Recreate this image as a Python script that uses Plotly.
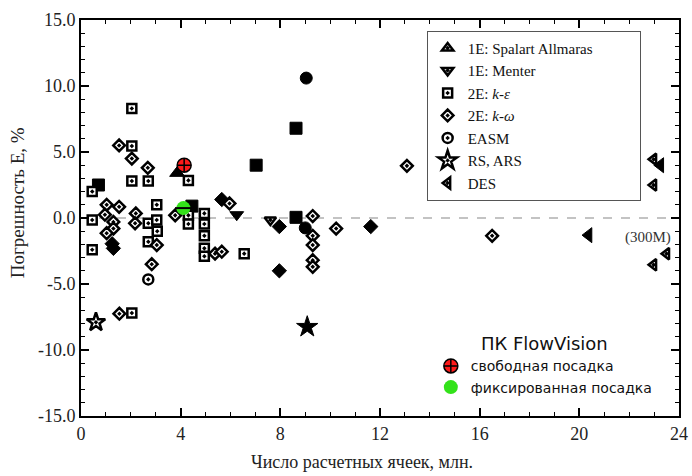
import plotly.graph_objects as go

# ---------------- data ----------------
# 1E: Spalart Allmaras
sa_fill_x = [3.86]
sa_fill_y = [3.4]
# 1E: Menter
me_open_x = [7.6]
me_open_y = [-0.15]
me_fill_x = [6.25]
me_fill_y = [0.25]
# 2E: k-epsilon
ke_open_x = [0.45, 0.45, 0.45, 2.04, 2.04, 2.04, 2.7, 3.04, 2.7, 3.06, 2.7, 3.04,
             4.31, 4.31, 4.31, 4.95, 4.95, 4.95, 4.95, 4.95, 2.04, 6.55]
ke_open_y = [2.0, -0.15, -2.4, 8.3, 5.45, 2.8, 2.8, 1.0, -0.4, -1.0, -1.8, -0.15,
             2.85, 0.2, -0.45, 0.35, -0.45, -1.35, -2.3, -2.9, -7.2, -2.7]
ke_fill_x = [0.7, 4.45, 7.03, 8.63, 8.63]
ke_fill_y = [2.5, 0.9, 4.0, 6.8, 0.05]
# 2E: k-omega
kw_open_x = [1.53, 2.04, 2.68, 1.03, 1.53, 2.2, 2.17, 0.96, 1.3, 1.3, 1.03, 3.78,
             3.04, 2.84, 1.54, 5.96, 5.38, 5.65, 9.3, 9.3, 9.3, 9.3, 9.3, 10.24,
             13.08, 16.5]
kw_open_y = [5.5, 4.5, 3.8, 1.0, 0.85, 0.35, -0.4, 0.25, -0.3, -0.8, -1.15, 0.2,
             -2.05, -3.5, -7.25, 1.1, -2.7, -2.55, 0.15, -1.35, -2.05, -3.2, -3.7, -0.8,
             3.95, -1.35]
kw_fill_x = [5.65, 7.96, 7.96, 11.63, 1.25, 1.3]
kw_fill_y = [1.4, -0.65, -4.0, -0.65, -1.95, -2.3]
# EASM
ea_open_x = [2.7]
ea_open_y = [-4.65]
ea_fill_x = [9.04, 9.0]
ea_fill_y = [10.6, -0.75]
# RS, ARS
rs_open_x = [0.6]
rs_open_y = [-7.9]
rs_fill_x = [9.08]
rs_fill_y = [-8.25]
# DES
des_open_x = [22.98, 22.98, 23.5, 22.98]
des_open_y = [4.45, 2.5, -2.7, -3.55]
des_fill_x = [23.25, 20.37]
des_fill_y = [4.0, -1.3]
# FlowVision
fv_free_x = [4.14]
fv_free_y = [4.0]
fv_fixed_x = [4.11]
fv_fixed_y = [0.75]

x_ticks = [0, 4, 8, 12, 16, 20, 24]
y_ticks = [15, 10, 5, 0, -5, -10, -15]

SERIF = "Liberation Serif"
SANS = "DejaVu Sans"
NB = "\u00a0"

OPEN_LINE = dict(color="black", width=2.5)

fig = go.Figure()


def add_open(x, y, symbol, size, name, show=True):
    fig.add_trace(go.Scatter(
        x=x if x else [None], y=y if y else [None], mode="markers", name=name,
        showlegend=show, legend="legend",
        marker=dict(symbol=symbol, size=size, color="white", line=OPEN_LINE)))


def add_fill(x, y, symbol, size):
    fig.add_trace(go.Scatter(
        x=x, y=y, mode="markers", showlegend=False,
        marker=dict(symbol=symbol, size=size, color="black",
                    line=dict(color="black", width=1))))


# filled markers first
add_fill(ke_fill_x, ke_fill_y, "square", 12)
add_fill(kw_fill_x, kw_fill_y, "diamond", 11)
add_fill(ea_fill_x, ea_fill_y, "circle", 12)
add_fill(me_fill_x, me_fill_y, "triangle-down", 12)
add_fill(sa_fill_x, sa_fill_y, "triangle-up", 13)
add_fill(rs_fill_x, rs_fill_y, "star", 16)
add_fill(des_fill_x, des_fill_y, "triangle-left", 13)

# open markers (these carry the legend)
add_open([], [], "triangle-up-dot", 10, "1E: Spalart Allmaras" + NB * 11)
add_open(me_open_x, me_open_y, "triangle-down-dot", 10, "1E: Menter")
add_open(ke_open_x, ke_open_y, "square-dot", 9, "2E: <i>k-ε</i>")
add_open(kw_open_x, kw_open_y, "diamond-dot", 9, "2E: <i>k-ω</i>")
add_open(ea_open_x, ea_open_y, "circle-dot", 10, "EASM")
add_open(rs_open_x, rs_open_y, "star-dot", 14, "RS, ARS")
add_open(des_open_x, des_open_y, "triangle-left-dot", 10, "DES")

# FlowVision points
fig.add_trace(go.Scatter(
    x=fv_free_x, y=fv_free_y, mode="markers", name="свободная посадка",
    legend="legend2",
    marker=dict(symbol="circle-cross", size=14, color="#ff1a1a",
                line=dict(color="black", width=1.5))))
fig.add_trace(go.Scatter(
    x=fv_fixed_x, y=fv_fixed_y, mode="markers", name="фиксированная посадка",
    legend="legend2",
    marker=dict(symbol="circle", size=14, color="#33e21a",
                line=dict(color="#33e21a", width=0))))
fig.add_trace(go.Scatter(
    x=fv_fixed_x, y=fv_fixed_y, mode="markers", showlegend=False,
    marker=dict(symbol="line-ew", size=12, color="black",
                line=dict(color="black", width=2))))

fig.add_shape(type="line", xref="x", yref="y", x0=0, x1=24, y0=0, y1=0,
              line=dict(color="#888888", width=1.2, dash="dash"), layer="below")

fig.add_annotation(x=22.75, y=-1.45, xref="x", yref="y", text="(300M)",
                   showarrow=False, font=dict(family=SERIF, size=15, color="#333"))

fig.add_annotation(x=0.47, y=-0.116, xref="paper", yref="paper",
                   text="Число расчетных ячеек, млн.", showarrow=False,
                   yanchor="middle", font=dict(family=SERIF, size=18, color="#222"))
fig.add_annotation(x=-0.105, y=0.538, xref="paper", yref="paper",
                   text="Погрешность Е, %", showarrow=False, textangle=-90,
                   xanchor="center", yanchor="middle",
                   font=dict(family=SERIF, size=19, color="#222"))

axis_common = dict(showgrid=False, zeroline=False, showline=True, linecolor="black",
                   linewidth=2, mirror="allticks", ticks="inside", ticklen=8,
                   tickwidth=1.5, tickcolor="black", automargin=False,
                   tickfont=dict(family=SERIF, size=18, color="#222"))

fig.update_xaxes(range=[0, 24], tickvals=x_ticks, ticktext=[str(v) for v in x_ticks],
                 minor=dict(dtick=1, ticks="inside", ticklen=4, tickcolor="black",
                            tickwidth=1.2),
                 **axis_common)
fig.update_yaxes(range=[-15, 15], tickvals=y_ticks,
                 ticktext=[f"{v:.1f}" for v in y_ticks],
                 minor=dict(dtick=1, ticks="inside", ticklen=4, tickcolor="black",
                            tickwidth=1.2),
                 **axis_common)

fig.update_layout(
    width=692, height=476,
    margin=dict(l=81, r=13, t=20, b=60, autoexpand=False),
    plot_bgcolor="white", paper_bgcolor="white",
    legend=dict(x=0.578, y=0.973, xanchor="left", yanchor="top",
                bgcolor="rgba(255,255,255,0)", bordercolor="#555", borderwidth=1,
                font=dict(family=SERIF, size=15, color="#111"),
                traceorder="normal", tracegroupgap=0),
    legend2=dict(x=0.585, y=0.225, xanchor="left", yanchor="top",
                 bgcolor="rgba(0,0,0,0)", borderwidth=0,
                 font=dict(family=SANS, size=14, color="#111"),
                 title=dict(text="ПК FlowVision", side="top center",
                            font=dict(family=SANS, size=18, color="#111"))),
)

fig.write_html("out.html",
               config={"displayModeBar": False},
               post_script="document.body.style.margin='0px';"
                           "document.body.style.overflow='hidden';")
